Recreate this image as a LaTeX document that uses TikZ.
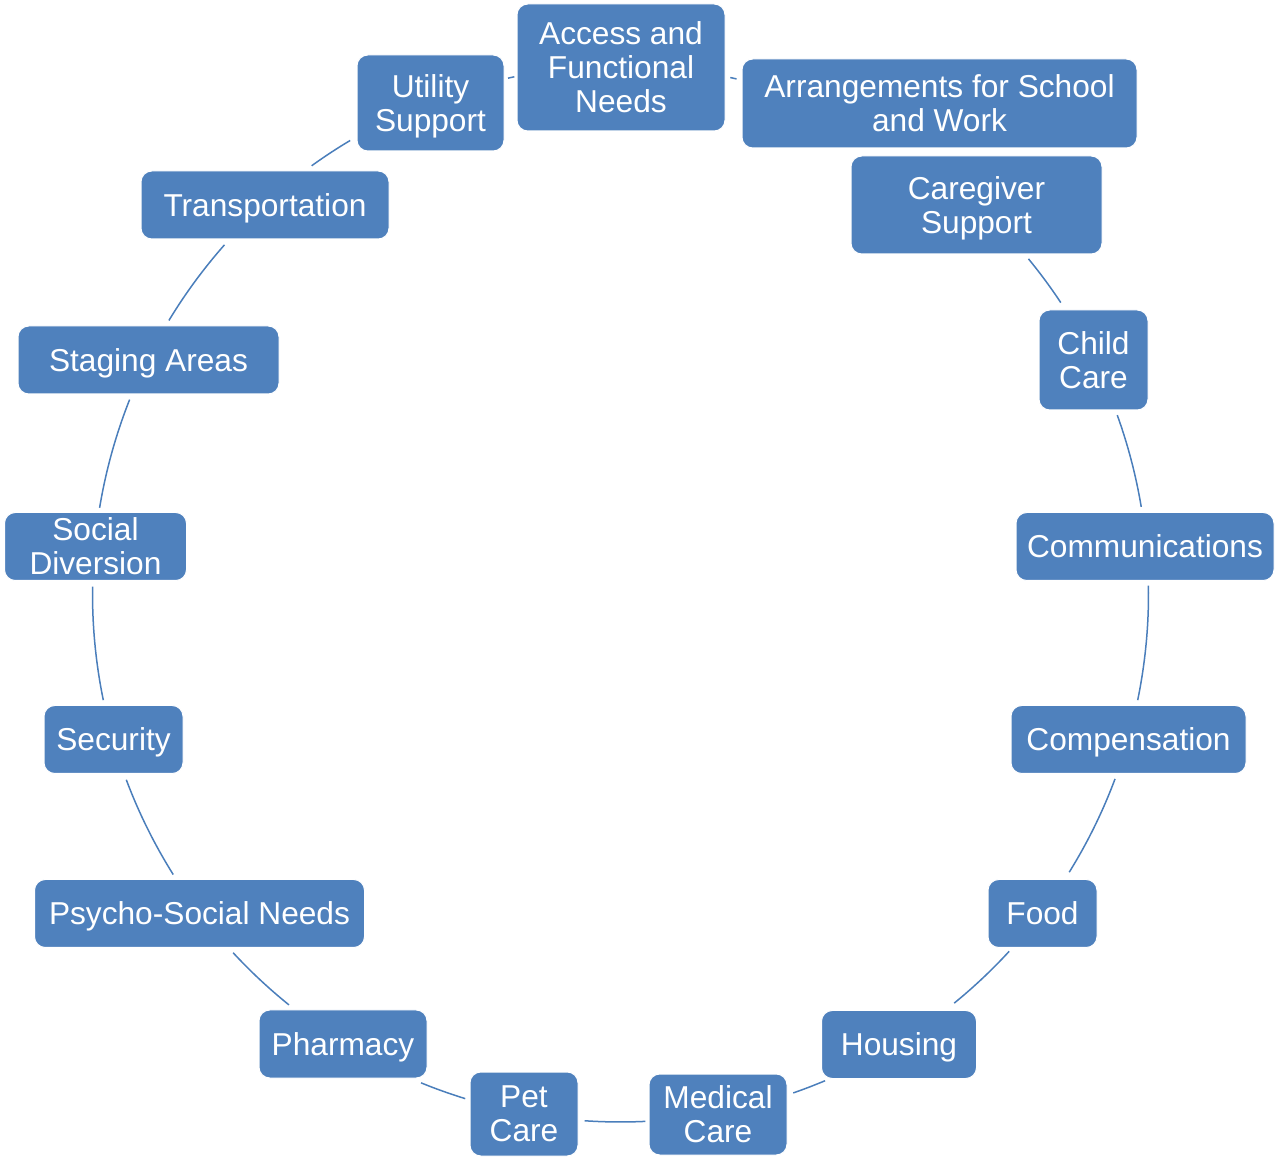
\documentclass[tikz,border=0pt]{standalone}
\usepackage{fontspec}
\setmainfont{Liberation Sans}
\definecolor{boxblue}{HTML}{4F81BD}
\definecolor{lineblue}{HTML}{4A7EBB}
\tikzset{
  box/.style={draw=white, line width=0.6pt, fill=boxblue, rounded corners=6.5pt,
    text=white, align=center, inner sep=0pt, text depth=0pt,
    font=\fontsize{19}{20.4}\selectfont},
  wh/.style 2 args={minimum width=#1*0.6pt, minimum height=#2*0.6pt},
  conn/.style={draw=lineblue, line width=0.9pt}
}
\newcommand\cyclearc[2]{\draw[conn] ([shift={(#1:316.8pt)}]O) arc[start angle=#1,end angle=#2,radius=316.8pt];}
\begin{document}
\begin{tikzpicture}[x=0.6pt,y=0.6pt]
\useasboundingbox (0,0) rectangle (1275,1159);
\coordinate (O) at (620.5,565);
% arcs (drawn first)
\cyclearc{78.0}{77.3}
\cyclearc{39.4}{33.5}
\cyclearc{19.8}{9.5}
\cyclearc{0.9}{-11.6}
\cyclearc{-20.5}{-31.8}
\cyclearc{-42.6}{-50.8}
\cyclearc{-67.2}{-70.9}
\cyclearc{-87.3}{-93.9}
\cyclearc{-107.1}{-112.2}
\cyclearc{-128.9}{-137.2}
\cyclearc{-147.9}{-159.4}
\cyclearc{-168.4}{-180.8}
\cyclearc{170.6}{158.4}
\cyclearc{148.8}{138.6}
\cyclearc{125.8}{120.8}
\cyclearc{102.3}{101.6}
% nodes
\node[box, wh={208}{127}] (acc)   at (621,1091.5) {Access and\\Functional\\Needs};
\node[box, wh={395}{89}]  (arr)   at (939.5,1055.5) {Arrangements for School\\and Work};
\node[box, wh={251}{98}]  (care)  at (976.5,954) {Caregiver\\Support};
\node[box, wh={109}{100}] (child) at (1093.5,799) {Child\\Care};
\node[box, wh={258}{68}]  (comm)  at (1145,612.5) {Communications};
\node[box, wh={235}{68}]  (comp)  at (1128.5,419.5) {Compensation};
\node[box, wh={109}{68}]  (food)  at (1042.5,245.5) {Food};
\node[box, wh={155}{68}]  (hous)  at (899,114.5) {Housing};
\node[box, wh={138}{81}]  (med)   at (718,44.5) {Medical\\Care};
\node[box, wh={108}{84}]  (pet)   at (524,45) {Pet\\Care};
\node[box, wh={168}{68}]  (pharm) at (343,115) {Pharmacy};
\node[box, wh={330}{68}]  (psy)   at (199.5,245.5) {Psycho-Social Needs};
\node[box, wh={139}{68}]  (sec)   at (113.5,419.5) {Security};
\node[box, wh={182}{68}]  (soc)   at (95.5,612.5) {Social\\Diversion};
\node[box, wh={261}{68}]  (stag)  at (148.5,799) {Staging Areas};
\node[box, wh={248}{68}]  (trans) at (265,954) {Transportation};
\node[box, wh={147}{96}]  (util)  at (430.5,1056) {Utility\\Support};
\end{tikzpicture}
\end{document}
